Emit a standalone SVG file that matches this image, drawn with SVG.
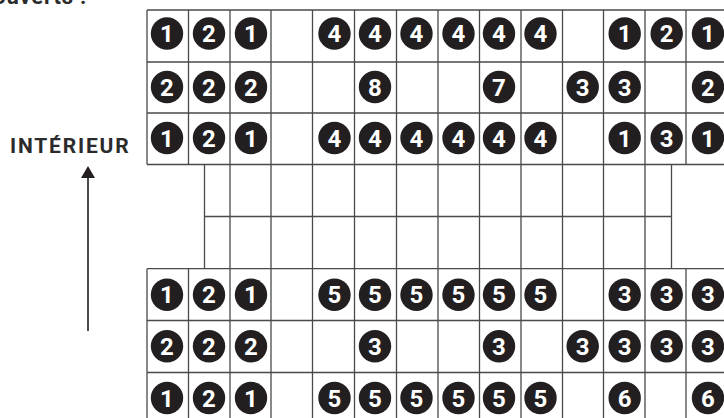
<svg xmlns="http://www.w3.org/2000/svg" width="724" height="418" viewBox="0 0 724 418">
<style>
text{font-family:"Roboto","Liberation Sans",sans-serif}
.l{stroke:#4a4a4a;stroke-width:1.3;fill:none}
.d{fill:#231f20}
.n{fill:#fff;font-size:24px;font-weight:700;text-anchor:middle}
.t{fill:#2b2b2b;font-weight:700}
</style>
<defs>
<g id="c"><circle class="d" r="16.200"/></g>
</defs>
<rect width="724" height="418" fill="#fff"/>
<text class="t" x="87" y="4" font-size="22" letter-spacing="0.800" text-anchor="end">ouverts :</text>
<text class="t" x="10" y="153" font-size="21" letter-spacing="1.800">INTÉRIEUR</text>
<g id="connectors">
<path class="l" d="M147 10H724M147 62H724M147 113H724M147 164.500H724M147 268.700H724M147 320.500H724M147 372.500H724M204.500 216.500H671.500"/>
<path class="l" d="M147 10V164.500M188.500 10V164.500M686 10V164.500M147 268.700V418M188.500 268.700V418M686 268.700V418M204.500 164.500V268.700M671.500 164.500V268.700"/>
<path class="l" d="M230 10V418M271 10V418M312.500 10V418M354.500 10V418M396.500 10V418M438 10V418M479.500 10V418M521 10V418M562.500 10V418M603.500 10V418M645 10V418"/>
<path d="M88 178V331" stroke="#4a4a4a" stroke-width="2" fill="none"/>
<path d="M88 166L95 178H81Z" fill="#231f20"/>
</g>
<g id="top">
<g id="r1"><use href="#c" x="167" y="33.500"/><text class="n" x="167" y="42">1</text><use href="#c" x="209" y="33.500"/><text class="n" x="209" y="42">2</text><use href="#c" x="251" y="33.500"/><text class="n" x="251" y="42">1</text><use href="#c" x="334.500" y="33.500"/><text class="n" x="334.500" y="42">4</text><use href="#c" x="375" y="33.500"/><text class="n" x="375" y="42">4</text><use href="#c" x="416.500" y="33.500"/><text class="n" x="416.500" y="42">4</text><use href="#c" x="458.500" y="33.500"/><text class="n" x="458.500" y="42">4</text><use href="#c" x="499" y="33.500"/><text class="n" x="499" y="42">4</text><use href="#c" x="540.500" y="33.500"/><text class="n" x="540.500" y="42">4</text><use href="#c" x="624.700" y="33.500"/><text class="n" x="624.700" y="42">1</text><use href="#c" x="666.700" y="33.500"/><text class="n" x="666.700" y="42">2</text><use href="#c" x="708" y="33.500"/><text class="n" x="708" y="42">1</text></g>
<g id="r2"><use href="#c" x="167" y="87"/><text class="n" x="167" y="95.500">2</text><use href="#c" x="209" y="87"/><text class="n" x="209" y="95.500">2</text><use href="#c" x="251" y="87"/><text class="n" x="251" y="95.500">2</text><use href="#c" x="375" y="87"/><text class="n" x="375" y="95.500">8</text><use href="#c" x="499" y="87"/><text class="n" x="499" y="95.500">7</text><use href="#c" x="582.700" y="87"/><text class="n" x="582.700" y="95.500">3</text><use href="#c" x="624.700" y="87"/><text class="n" x="624.700" y="95.500">3</text><use href="#c" x="708" y="87"/><text class="n" x="708" y="95.500">2</text></g>
<g id="r3"><use href="#c" x="167" y="138"/><text class="n" x="167" y="146.500">1</text><use href="#c" x="209" y="138"/><text class="n" x="209" y="146.500">2</text><use href="#c" x="251" y="138"/><text class="n" x="251" y="146.500">1</text><use href="#c" x="334.500" y="138"/><text class="n" x="334.500" y="146.500">4</text><use href="#c" x="375" y="138"/><text class="n" x="375" y="146.500">4</text><use href="#c" x="416.500" y="138"/><text class="n" x="416.500" y="146.500">4</text><use href="#c" x="458.500" y="138"/><text class="n" x="458.500" y="146.500">4</text><use href="#c" x="499" y="138"/><text class="n" x="499" y="146.500">4</text><use href="#c" x="540.500" y="138"/><text class="n" x="540.500" y="146.500">4</text><use href="#c" x="624.700" y="138"/><text class="n" x="624.700" y="146.500">1</text><use href="#c" x="666.700" y="138"/><text class="n" x="666.700" y="146.500">3</text><use href="#c" x="708" y="138"/><text class="n" x="708" y="146.500">1</text></g>
</g>
<g id="bottom">
<g id="r4"><use href="#c" x="167" y="294.700"/><text class="n" x="167" y="303.200">1</text><use href="#c" x="209" y="294.700"/><text class="n" x="209" y="303.200">2</text><use href="#c" x="251" y="294.700"/><text class="n" x="251" y="303.200">1</text><use href="#c" x="334.500" y="294.700"/><text class="n" x="334.500" y="303.200">5</text><use href="#c" x="375" y="294.700"/><text class="n" x="375" y="303.200">5</text><use href="#c" x="416.500" y="294.700"/><text class="n" x="416.500" y="303.200">5</text><use href="#c" x="458.500" y="294.700"/><text class="n" x="458.500" y="303.200">5</text><use href="#c" x="499" y="294.700"/><text class="n" x="499" y="303.200">5</text><use href="#c" x="540.500" y="294.700"/><text class="n" x="540.500" y="303.200">5</text><use href="#c" x="624.700" y="294.700"/><text class="n" x="624.700" y="303.200">3</text><use href="#c" x="666.700" y="294.700"/><text class="n" x="666.700" y="303.200">3</text><use href="#c" x="708" y="294.700"/><text class="n" x="708" y="303.200">3</text></g>
<g id="r5"><use href="#c" x="167" y="346.300"/><text class="n" x="167" y="354.800">2</text><use href="#c" x="209" y="346.300"/><text class="n" x="209" y="354.800">2</text><use href="#c" x="251" y="346.300"/><text class="n" x="251" y="354.800">2</text><use href="#c" x="375" y="346.300"/><text class="n" x="375" y="354.800">3</text><use href="#c" x="499" y="346.300"/><text class="n" x="499" y="354.800">3</text><use href="#c" x="582.700" y="346.300"/><text class="n" x="582.700" y="354.800">3</text><use href="#c" x="624.700" y="346.300"/><text class="n" x="624.700" y="354.800">3</text><use href="#c" x="666.700" y="346.300"/><text class="n" x="666.700" y="354.800">3</text><use href="#c" x="708" y="346.300"/><text class="n" x="708" y="354.800">3</text></g>
<g id="r6"><use href="#c" x="167" y="398"/><text class="n" x="167" y="406.500">1</text><use href="#c" x="209" y="398"/><text class="n" x="209" y="406.500">2</text><use href="#c" x="251" y="398"/><text class="n" x="251" y="406.500">1</text><use href="#c" x="334.500" y="398"/><text class="n" x="334.500" y="406.500">5</text><use href="#c" x="375" y="398"/><text class="n" x="375" y="406.500">5</text><use href="#c" x="416.500" y="398"/><text class="n" x="416.500" y="406.500">5</text><use href="#c" x="458.500" y="398"/><text class="n" x="458.500" y="406.500">5</text><use href="#c" x="499" y="398"/><text class="n" x="499" y="406.500">5</text><use href="#c" x="540.500" y="398"/><text class="n" x="540.500" y="406.500">5</text><use href="#c" x="624.700" y="398"/><text class="n" x="624.700" y="406.500">6</text><use href="#c" x="708" y="398"/><text class="n" x="708" y="406.500">6</text></g>
</g>
</svg>
